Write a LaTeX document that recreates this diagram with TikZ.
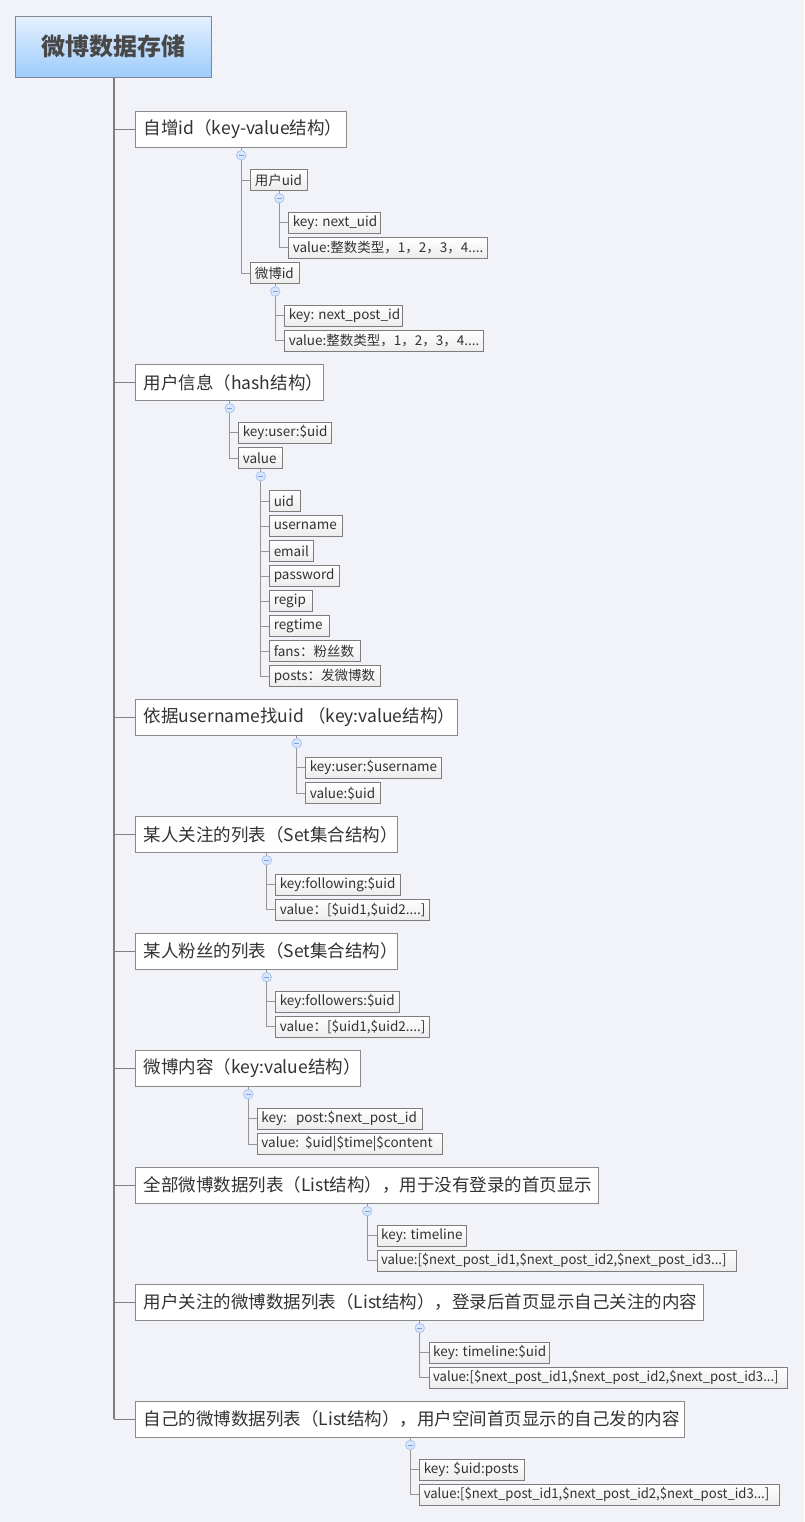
\documentclass[tikz,border=0pt]{standalone}
\usepackage{fontspec}
\setmainfont{Noto Sans CJK SC}
\definecolor{bg}{RGB}{242,243,248}
\definecolor{roottop}{RGB}{228,241,255}
\definecolor{rootbot}{RGB}{157,203,250}
\definecolor{rootline}{RGB}{130,136,145}
\definecolor{roottxt}{RGB}{72,72,72}
\definecolor{boxline}{RGB}{138,138,138}
\definecolor{leafline}{RGB}{125,125,125}
\definecolor{leaffill}{RGB}{236,236,236}
\definecolor{txt}{RGB}{50,50,50}
\definecolor{trunkc}{RGB}{128,128,128}
\definecolor{connc}{RGB}{150,150,150}
\definecolor{togfill}{RGB}{218,230,251}
\definecolor{togline}{RGB}{168,196,240}
\definecolor{togminus}{RGB}{120,160,225}
\newcommand\bx[2]{\makebox[\dimexpr#1bp-8bp\relax][l]{#2}}
\newcommand\bl[2]{\makebox[\dimexpr#1bp-16bp\relax][l]{#2}}
\newcommand\cond[1]{\scalebox{0.97}[1]{#1}}
\begin{document}
\begin{tikzpicture}[x=1bp,y=-1bp,
  root/.style={draw=rootline, line width=0.9bp, top color=roottop, bottom color=rootbot,
    minimum width=195.5bp, minimum height=61.5bp, inner sep=0pt,
    font=\fontsize{24bp}{28bp}\selectfont\bfseries, text=roottxt},
  lvone/.style={draw=boxline, fill=white, line width=0.9bp, anchor=west,
    inner xsep=8bp, inner ysep=0pt, minimum height=36bp, text=txt,
    font=\fontsize{17.5bp}{20bp}\selectfont},
  leaf/.style={draw=leafline, top color=white, bottom color=leaffill, line width=0.9bp,
    anchor=west, inner xsep=4bp, inner ysep=0pt, minimum height=21bp, text=txt,
    font=\fontsize{13.5bp}{16bp}\selectfont},
  trunk/.style={draw=trunkc, line width=2bp},
  branch/.style={draw=trunkc, line width=1.1bp},
  conn/.style={draw=connc, line width=1bp},
  tog/.style={circle, draw=togline, fill=togfill, line width=0.8bp, minimum size=9.5bp, inner sep=0pt,
    path picture={\draw[togminus, line width=0.9bp] ([xshift=-2.6bp]path picture bounding box.center) -- ([xshift=2.6bp]path picture bounding box.center);}}
]
\fill[bg] (0,0) rectangle (804,1522);
\useasboundingbox (0,0) rectangle (804,1522);

% root
\node[root] (root) at (113.7,46.8) {微博数据存储};

% level one
\node[lvone] (a) at (135.3,129.5) {\bl{211}{自增id（key-value结构）}};
\node[lvone] (b) at (135.3,382.5) {\bl{188}{用户信息（hash结构）}};
\node[lvone] (c) at (135.3,717.5) {\bl{322}{依据username找uid （key:value结构）}};
\node[lvone] (d) at (135.3,834.5) {\bl{262}{某人关注的列表（Set集合结构）}};
\node[lvone] (e) at (135.3,951.3) {\bl{262}{某人粉丝的列表（Set集合结构）}};
\node[lvone] (f) at (135.3,1068.5) {\bl{225}{微博内容（key:value结构）}};
\node[lvone] (g) at (135.3,1185.4) {\bl{463}{全部微博数据列表（List结构），用于没有登录的首页显示}};
\node[lvone] (h) at (135.3,1302.3) {\bl{568}{用户关注的微博数据列表（List结构），登录后首页显示自己关注的内容}};
\node[lvone] (i) at (135.3,1419.2) {\bl{549}{自己的微博数据列表（List结构），用户空间首页显示的自己发的内容}};

% subtree a
\node[leaf] (a1) at (250.3,180) {\bx{57}{用户uid}};
\node[leaf] (a2) at (250.3,273.2) {\bx{49}{微博id}};
\node[leaf] (a11) at (288.3,222.8) {\bx{92}{key: next\_uid}};
\node[leaf] (a12) at (288.3,247.8) {\bx{199}{value:整数类型，1，2，3，4....}};
\node[leaf] (a21) at (284.3,315.8) {\bx{118}{key: next\_post\_id}};
\node[leaf] (a22) at (284.3,340.8) {\bx{199}{value:整数类型，1，2，3，4....}};

% subtree b
\node[leaf] (b1) at (238.3,432.8) {\bx{93}{key:user:\$uid}};
\node[leaf] (b2) at (238.3,458) {\bx{44}{value}};
\node[leaf] (b21) at (269.3,501) {\bx{31}{uid}};
\node[leaf] (b22) at (269.3,526) {\bx{73}{username}};
\node[leaf] (b23) at (269.3,551) {\bx{44}{email}};
\node[leaf] (b24) at (269.3,576) {\bx{70}{password}};
\node[leaf] (b25) at (269.3,601) {\bx{43}{regip}};
\node[leaf] (b26) at (269.3,626) {\bx{60}{regtime}};
\node[leaf] (b27) at (269.3,651) {\bx{91}{fans：粉丝数}};
\node[leaf] (b28) at (269.3,676) {\bx{111}{posts：发微博数}};

% subtree c
\node[leaf] (c1) at (305.3,767.8) {\bx{136}{key:user:\$username}};
\node[leaf] (c2) at (305.3,793.2) {\bx{75}{value:\$uid}};

% subtree d
\node[leaf] (d1) at (275.3,884.8) {\bx{125}{key:following:\$uid}};
\node[leaf] (d2) at (275.3,909.8) {\bx{154}{value：[\$uid1,\$uid2....]}};

% subtree e
\node[leaf] (e1) at (275.3,1001.8) {\bx{124}{key:followers:\$uid}};
\node[leaf] (e2) at (275.3,1026.8) {\bx{154}{value：[\$uid1,\$uid2....]}};

% subtree f
\node[leaf] (f1) at (257,1118.8) {\bx{165}{key:\ \ \ post:\$next\_post\_id}};
\node[leaf] (f2) at (257,1144) {\bx{185}{value:\ \ \$uid|\$time|\$content}};

% subtree g
\node[leaf] (g1) at (376.6,1235.5) {\bx{89.5}{key: timeline}};
\node[leaf] (g2) at (376.6,1260.5) {\bx{359}{\cond{value:[\$next\_post\_id1,\$next\_post\_id2,\$next\_post\_id3...]}}};

% subtree h
\node[leaf] (h1) at (428.7,1352.7) {\bx{120}{key: timeline:\$uid}};
\node[leaf] (h2) at (428.7,1377.8) {\bx{358}{\cond{value:[\$next\_post\_id1,\$next\_post\_id2,\$next\_post\_id3...]}}};

% subtree i
\node[leaf] (i1) at (419.3,1469.5) {\bx{105}{key: \$uid:posts}};
\node[leaf] (i2) at (419.3,1494.5) {\bx{360}{\cond{value:[\$next\_post\_id1,\$next\_post\_id2,\$next\_post\_id3...]}}};

% trunk and branches
\draw[trunk] (root.south) -- (root.south |- i.west);
\foreach \n in {a,b,c,d,e,f,g,h,i} \draw[branch] (root.south |- \n.west) -- (\n.west);

% sub connectors
\foreach \p/\c in {a/a1,a/a2,a1/a11,a1/a12,a2/a21,a2/a22,b/b1,b/b2,
  b2/b21,b2/b22,b2/b23,b2/b24,b2/b25,b2/b26,b2/b27,b2/b28,
  c/c1,c/c2,d/d1,d/d2,e/e1,e/e2,f/f1,f/f2,g/g1,g/g2,h/h1,h/h2,i/i1,i/i2}
  \draw[conn] (\p.south) |- (\c.west);

% toggles
\foreach \p in {a,a1,a2,b,b2,c,d,e,f,g,h,i}
  \node[tog] (t\p) at ([yshift=-7.3bp]\p.south) {};
\end{tikzpicture}
\end{document}
